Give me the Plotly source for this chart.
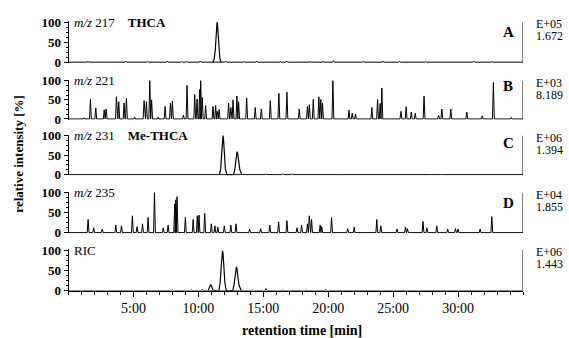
import plotly.graph_objects as go

# ---------------- data (retention time in min, relative intensity in %) ----------------
T_END = 35.0

# Panel A: m/z 217 THCA
A_spike_t = [0.6, 1.5, 2.9, 4.4, 6.1, 7.6, 8.7, 9.1, 10.15, 12.1, 13.5, 14.5, 16.3, 16.8,
             18.6, 19.6, 20.4, 22.7, 24.2, 25.5, 27.5, 29.0, 31.2, 32.6]
A_spike_h = [1, 2, 1, 3, 2, 3, 2, 2, 3, 3, 2, 3, 2, 3, 2, 2, 4, 2, 3, 2, 2, 1, 3, 2]
A_peak_t = [11.12, 11.22, 11.30, 11.36, 11.41, 11.44, 11.47, 11.52, 11.58, 11.66, 11.76]
A_peak_h = [0, 8, 30, 70, 95, 100, 95, 70, 30, 8, 0]

# Panel B: m/z 221
B_spike_t = [1.2, 1.69, 2.1, 2.75, 2.9, 3.69, 3.87, 4.28, 4.46, 5.1, 5.82, 6.0, 6.26, 6.4, 6.9,
             7.44, 7.85, 8.0, 8.85, 9.13, 9.72, 9.9, 10.1, 10.18, 10.3, 10.56, 11.13, 11.33,
             11.45, 11.6, 12.33, 12.5, 12.67, 12.97, 13.1, 13.72, 14.38, 14.85, 15.54, 16.2,
             16.82, 17.77, 18.4, 18.55, 18.85, 19.28, 19.43, 19.56, 20.36, 21.6, 21.85, 22.1,
             23.36, 23.8, 24.0, 24.13, 25.6, 26.0, 26.4, 26.7, 27.38, 28.5, 28.75, 29.44,
             30.67, 31.86, 32.72, 34.1]
B_spike_h = [3, 51, 29, 24, 26, 58, 45, 42, 54, 5, 48, 45, 100, 50, 5,
             33, 41, 46, 10, 88, 64, 52, 77, 100, 56, 35, 33, 35,
             20, 25, 41, 30, 50, 60, 45, 55, 30, 26, 48, 67,
             70, 26, 33, 37, 51, 58, 51, 41, 100, 23, 15, 13,
             30, 51, 41, 81, 20, 32, 18, 15, 60, 10, 26, 26,
             18, 8, 95, 4]

# Panel C: m/z 231 Me-THCA
C_spike_t = [14.6, 15.2, 15.9, 16.5, 17.2, 21.0, 28.0, 28.8]
C_spike_h = [1, 2, 1, 2, 2, 1, 1, 1]
C_peak_t = [11.62, 11.72, 11.80, 11.86, 11.90, 11.94, 12.00, 12.08, 12.20,
            12.70, 12.80, 12.88, 12.94, 12.98, 13.02, 13.10, 13.20, 13.36]
C_peak_h = [0, 15, 55, 90, 100, 90, 55, 15, 0,
            0, 12, 38, 56, 59, 56, 38, 12, 0]

# Panel D: m/z 235
D_spike_t = [1.51, 1.94, 2.6, 3.64, 4.08, 4.92, 5.28, 5.7, 6.13, 6.62, 7.3, 7.67, 8.18, 8.26,
             8.36, 9.0, 9.6, 9.92, 10.05, 10.49, 11.0, 11.27, 11.5, 12.0, 12.5, 12.9, 13.95,
             14.8, 15.5, 16.18, 16.82, 17.6, 17.95, 18.4, 18.54, 18.72, 19.38, 19.5, 20.26,
             21.5, 22.0, 23.74, 24.05, 25.3, 25.95, 26.1, 27.3, 27.6, 28.36, 29.2, 29.8,
             30.0, 31.7, 32.6]
D_spike_h = [33, 12, 9, 19, 17, 42, 15, 22, 38, 100, 12, 19, 72, 82,
             90, 38, 33, 42, 44, 48, 22, 17, 14, 17, 19, 22, 9,
             10, 19, 27, 30, 12, 19, 22, 42, 33, 19, 15, 38,
             10, 14, 33, 17, 9, 14, 10, 28, 12, 17, 9, 10,
             9, 9, 40]

# Panel E: RIC
R_spike_t = [1.5, 3.2, 6.4, 8.0, 9.5, 10.3, 14.2, 15.2, 16.5, 18.3, 19.8, 22.0, 24.5, 27.0]
R_spike_h = [1, 1, 1, 2, 2, 3, 2, 5, 2, 2, 3, 1, 1, 1]
R_peak_t = [10.75, 10.88, 10.95, 11.02, 11.15, 11.58, 11.68, 11.76, 11.82, 11.86, 11.90,
            11.96, 12.04, 12.15, 12.65, 12.75, 12.83, 12.89, 12.93, 12.97, 13.03, 13.12, 13.30]
R_peak_h = [0, 10, 15, 10, 0, 0, 20, 60, 92, 98, 92, 60, 20, 0,
            0, 15, 40, 55, 59, 55, 40, 15, 0]

panel_labels = ["<i>m/z</i> 217\u2003<b>THCA</b>", "<i>m/z</i> 221",
                "<i>m/z</i> 231\u2003<b>Me-THCA</b>", "<i>m/z</i> 235", "RIC"]
panel_letters = ["A", "B", "C", "D", ""]
scale_exp = ["E+05", "E+03", "E+06", "E+04", "E+06"]
scale_val = ["1.672", "8.189", "1.394", "1.855", "1.443"]
x_tick_vals = [5, 10, 15, 20, 25, 30]
x_tick_text = ["5:00", "10:00", "15:00", "20:00", "25:00", "30:00"]
y_tick_vals = [0, 50, 100]
y_tick_text = ["0", "50", "100"]

# ---------------- layout geometry ----------------
W, H = 569, 338
# the captured picture maps paper height onto this band of pixels
EFF_TOP, EFF_H = 6.3, 323.1
X0PX, X1PX = 68.5, 523.0
PANEL_PX = [(61.5, 21.5), (118.3, 80.0), (174.0, 135.0), (232.0, 192.0), (290.0, 249.5)]
RANGES = [(-2, 102), (-2, 102), (-2, 102), (-2, 102), (0, 102)]
LETTER_PX = [31, 85, 142, 202, None]
FONT = "Liberation Serif, Times New Roman, serif"


def fy(px):
    return 1 - (px - EFF_TOP) / EFF_H


def build_spikes(ts, hs, w=0.07):
    pairs = sorted(zip(ts, hs))
    xs, ys = [0.0], [0.0]
    for t, h in pairs:
        xs += [t - w, t, t + w]
        ys += [0, h, 0]
    xs.append(T_END)
    ys.append(0.0)
    return xs, ys


spikes = [(A_spike_t, A_spike_h), (B_spike_t, B_spike_h), (C_spike_t, C_spike_h),
          (D_spike_t, D_spike_h), (R_spike_t, R_spike_h)]
broad = [(A_peak_t, A_peak_h), None, (C_peak_t, C_peak_h), None, (R_peak_t, R_peak_h)]

fig = go.Figure()
layout = dict(width=W, height=H, margin=dict(l=0, r=0, t=0, b=0),
              paper_bgcolor="white", plot_bgcolor="white", showlegend=False,
              font=dict(family=FONT, color="black"))
shapes, annotations = [], []

for i in range(5):
    yname = "y" if i == 0 else f"y{i+1}"
    ykey = "yaxis" if i == 0 else f"yaxis{i+1}"
    y0, y100 = PANEL_PX[i]
    lo, hi = RANGES[i]
    ppu = (y0 - y100) / 100.0
    bot = y0 - lo * ppu
    top = y100 - (hi - 100) * ppu
    layout[ykey] = dict(domain=[fy(bot), fy(top)], range=[lo, hi], anchor="x",
                        showgrid=False, zeroline=False, showline=True, linecolor="black",
                        linewidth=1, ticks="outside", ticklen=4, tickwidth=1, tickcolor="black",
                        tickvals=y_tick_vals, ticktext=y_tick_text,
                        tickfont=dict(family=FONT, size=13, color="black", weight="bold"),
                        minor=dict(tickvals=[12.5, 25, 37.5, 62.5, 75, 87.5], ticks="outside",
                                   ticklen=2, tickcolor="black"),
                        fixedrange=True)
    xs, ys = build_spikes(*spikes[i])
    fig.add_trace(go.Scatter(x=xs, y=ys, mode="lines", xaxis="x", yaxis=yname,
                             line=dict(color="black", width=1), hoverinfo="skip"))
    if broad[i] is not None:
        fig.add_trace(go.Scatter(x=broad[i][0], y=broad[i][1], mode="lines", xaxis="x",
                                 yaxis=yname, line=dict(color="black", width=1.2),
                                 hoverinfo="skip"))
    # right-hand scale bracket
    shapes.append(dict(type="line", xref="x", yref=yname, x0=T_END, x1=T_END, y0=0, y1=100,
                       line=dict(color="black", width=1)))
    shapes.append(dict(type="line", xref="x", yref=yname, x0=T_END, x1=T_END + 0.35, y0=100,
                       y1=100, line=dict(color="black", width=1)))
    annotations.append(dict(xref="x", yref=yname, x=0.25, y=100, xanchor="left",
                            yanchor="middle", text=panel_labels[i], showarrow=False,
                            font=dict(family=FONT, size=13, color="black")))
    annotations.append(dict(xref="paper", yref="paper", x=534 / W, y=fy(y100 + 2.0),
                            xanchor="left", yanchor="middle", text=scale_exp[i],
                            showarrow=False, font=dict(family=FONT, size=12, color="black")))
    annotations.append(dict(xref="paper", yref="paper", x=534 / W, y=fy(y100 + 14.0),
                            xanchor="left", yanchor="middle", text=scale_val[i],
                            showarrow=False, font=dict(family=FONT, size=12, color="black")))
    if panel_letters[i]:
        annotations.append(dict(xref="paper", yref="paper", x=508 / W,
                                y=fy(LETTER_PX[i]), xanchor="center", yanchor="middle",
                                text="<b>" + panel_letters[i] + "</b>", showarrow=False,
                                font=dict(family=FONT, size=15, color="black")))

layout["xaxis"] = dict(domain=[X0PX / W, X1PX / W], range=[0, T_END], anchor="y5",
                       showgrid=False, zeroline=False, showline=True, linecolor="black",
                       linewidth=1, ticks="outside", ticklen=5, tickcolor="black",
                       tickvals=x_tick_vals, ticktext=x_tick_text,
                       tickfont=dict(family=FONT, size=14, color="black"),
                       minor=dict(dtick=1, tick0=0, ticks="outside", ticklen=3,
                                  tickcolor="black"),
                       fixedrange=True)

annotations.append(dict(xref="paper", yref="paper", x=302 / W, y=fy(330),
                        xanchor="center", yanchor="middle",
                        text="<b>retention time [min]</b>", showarrow=False,
                        font=dict(family=FONT, size=14, color="black")))
annotations.append(dict(xref="paper", yref="paper", x=19 / W, y=fy(154),
                        xanchor="center", yanchor="middle", textangle=-90,
                        text="<b>relative intensity [%]</b>", showarrow=False,
                        font=dict(family=FONT, size=13, color="black")))

layout["shapes"] = shapes
layout["annotations"] = annotations
fig.update_layout(**layout)
fig.write_html("out.html", config={"displayModeBar": False},
               post_script="document.body.style.margin='0px';"
                           "document.body.style.overflow='hidden';")
